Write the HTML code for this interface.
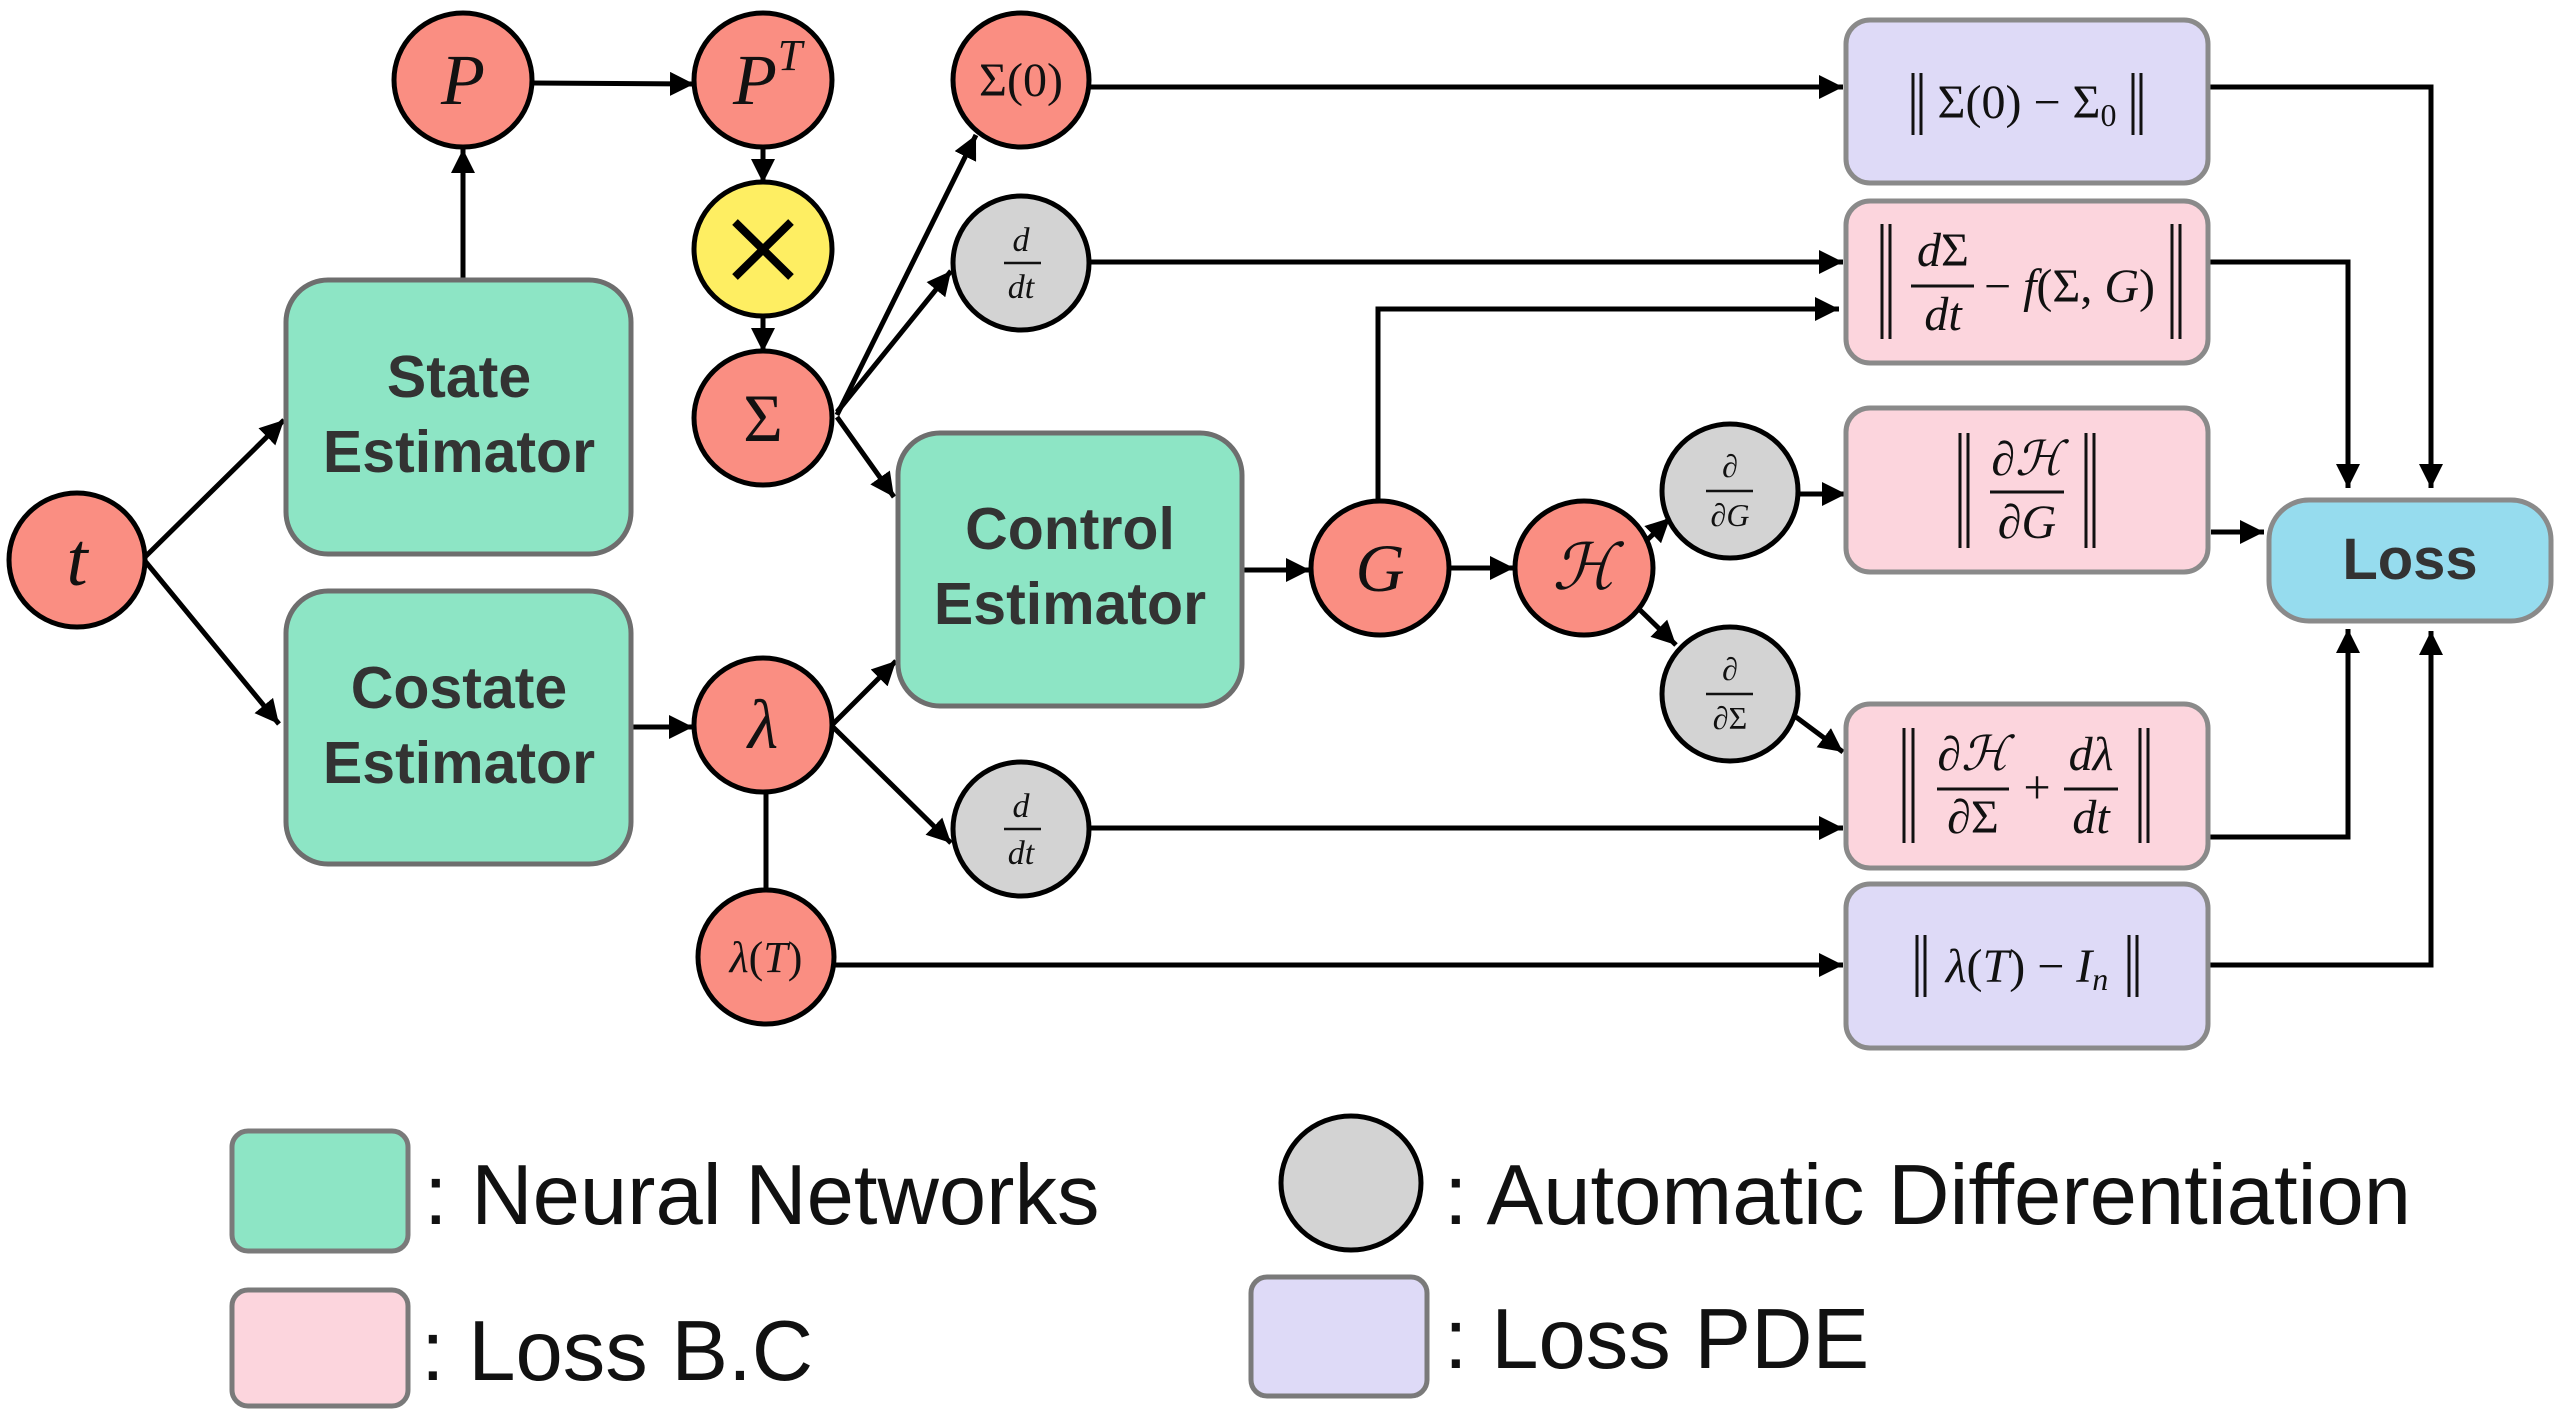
<!DOCTYPE html>
<html><head><meta charset="utf-8"><style>
html,body{margin:0;padding:0;background:#fff;}
svg{display:block}
.m{font-family:"Liberation Serif","DejaVu Serif",serif;fill:#111;}
.s{font-family:"Liberation Sans","DejaVu Sans",sans-serif;}
</style></head><body>
<svg width="2558" height="1420" viewBox="0 0 2558 1420" xmlns="http://www.w3.org/2000/svg">
<defs>
<marker id="a" markerUnits="userSpaceOnUse" markerWidth="26" markerHeight="24" refX="24" refY="12" orient="auto">
<path d="M0,0 L24,12 L0,24 Z" fill="#000"/>
</marker>
</defs>
<g stroke="#000" stroke-width="5" fill="none">
<line x1="145" y1="557" x2="284" y2="420" marker-end="url(#a)"/>
<line x1="145" y1="561" x2="279" y2="724" marker-end="url(#a)"/>
<line x1="463" y1="280" x2="463" y2="149" marker-end="url(#a)"/>
<line x1="532" y1="83" x2="694" y2="84" marker-end="url(#a)"/>
<line x1="763" y1="147" x2="763" y2="183" marker-end="url(#a)"/>
<line x1="763" y1="316" x2="763" y2="352" marker-end="url(#a)"/>
<line x1="837" y1="415" x2="976" y2="135" marker-end="url(#a)"/>
<line x1="837" y1="412" x2="951" y2="271" marker-end="url(#a)"/>
<line x1="837" y1="417" x2="894" y2="497" marker-end="url(#a)"/>
<line x1="631" y1="727" x2="693" y2="727" marker-end="url(#a)"/>
<line x1="833" y1="724" x2="896" y2="661" marker-end="url(#a)"/>
<line x1="833" y1="727" x2="951" y2="843" marker-end="url(#a)"/>
<line x1="766" y1="792" x2="766" y2="891"/>
<line x1="1089" y1="87" x2="1843" y2="87" marker-end="url(#a)"/>
<line x1="1089" y1="262" x2="1843" y2="262" marker-end="url(#a)"/>
<line x1="1089" y1="828" x2="1843" y2="828" marker-end="url(#a)"/>
<line x1="835" y1="965" x2="1843" y2="965" marker-end="url(#a)"/>
<line x1="1242" y1="570" x2="1310" y2="570" marker-end="url(#a)"/>
<line x1="1449" y1="568" x2="1514" y2="568" marker-end="url(#a)"/>
<polyline points="1378,502 1378,309 1839,309" marker-end="url(#a)"/>
<line x1="1643" y1="544" x2="1670" y2="518" marker-end="url(#a)"/>
<line x1="1639" y1="609" x2="1676" y2="645" marker-end="url(#a)"/>
<line x1="1798" y1="494" x2="1846" y2="494" marker-end="url(#a)"/>
<line x1="1796" y1="717" x2="1843" y2="752" marker-end="url(#a)"/>
<polyline points="2210,87 2431,87 2431,488" marker-end="url(#a)"/>
<polyline points="2210,262 2348,262 2348,488" marker-end="url(#a)"/>
<line x1="2211" y1="532" x2="2264" y2="532" marker-end="url(#a)"/>
<polyline points="2210,837 2348,837 2348,629" marker-end="url(#a)"/>
<polyline points="2210,965 2431,965 2431,631" marker-end="url(#a)"/>
</g>

<g fill="#8DE5C5" stroke="#6E6E6E" stroke-width="5">
<rect x="286" y="280" width="345" height="274" rx="42"/>
<rect x="286" y="591" width="345" height="273" rx="42"/>
<rect x="898" y="433" width="344" height="273" rx="42"/>
</g>
<g class="s" font-weight="bold" font-size="59" fill="#333" text-anchor="middle">
<text x="459" y="397">State</text><text x="459" y="472">Estimator</text>
<text x="459" y="708">Costate</text><text x="459" y="783">Estimator</text>
<text x="1070" y="549">Control</text><text x="1070" y="624">Estimator</text>
</g>

<g stroke="#8A8A8A" stroke-width="5">
<rect x="1846" y="20" width="362" height="163" rx="24" fill="#DEDAF7"/>
<rect x="1846" y="201" width="362" height="162" rx="24" fill="#FCD5DD"/>
<rect x="1846" y="408" width="362" height="164" rx="24" fill="#FCD5DD"/>
<rect x="1846" y="704" width="362" height="164" rx="24" fill="#FCD5DD"/>
<rect x="1846" y="884" width="362" height="164" rx="24" fill="#DEDAF7"/>
<rect x="2269" y="500" width="282" height="121" rx="40" fill="#96DCEE"/>
</g>
<text class="s" x="2410" y="579" font-size="58" font-weight="bold" fill="#333" text-anchor="middle">Loss</text>

<g stroke="#111" stroke-width="3">
<line x1="1913" y1="73" x2="1913" y2="135"/><line x1="1921" y1="73" x2="1921" y2="135"/>
<line x1="2133" y1="73" x2="2133" y2="135"/><line x1="2141" y1="73" x2="2141" y2="135"/>
<line x1="1882" y1="224" x2="1882" y2="339"/><line x1="1890" y1="224" x2="1890" y2="339"/>
<line x1="2172" y1="224" x2="2172" y2="339"/><line x1="2180" y1="224" x2="2180" y2="339"/>
<line x1="1960" y1="433" x2="1960" y2="548"/><line x1="1968" y1="433" x2="1968" y2="548"/>
<line x1="2086" y1="433" x2="2086" y2="548"/><line x1="2094" y1="433" x2="2094" y2="548"/>
<line x1="1904" y1="728" x2="1904" y2="843"/><line x1="1913" y1="728" x2="1913" y2="843"/>
<line x1="2140" y1="728" x2="2140" y2="843"/><line x1="2148" y1="728" x2="2148" y2="843"/>
<line x1="1917" y1="935" x2="1917" y2="997"/><line x1="1925" y1="935" x2="1925" y2="997"/>
<line x1="2129" y1="935" x2="2129" y2="997"/><line x1="2137" y1="935" x2="2137" y2="997"/>
<line x1="1911" y1="286" x2="1974" y2="286"/>
<line x1="1990" y1="492" x2="2064" y2="492"/>
<line x1="1937" y1="789" x2="2009" y2="789"/>
<line x1="2064" y1="789" x2="2118" y2="789"/>
</g>
<g class="m" font-size="48">
<text x="2027" y="118" text-anchor="middle">Σ(0) − Σ<tspan font-size="32" dy="8">0</tspan></text>
<text x="1943" y="266" text-anchor="middle"><tspan font-style="italic">d</tspan>Σ</text>
<text x="1943" y="330" text-anchor="middle" font-style="italic">dt</text>
<text x="1984" y="302">− <tspan font-style="italic">f</tspan>(Σ, <tspan font-style="italic">G</tspan>)</text>
<text x="2027" y="475" text-anchor="middle">∂<tspan font-style="italic">ℋ</tspan></text>
<text x="2027" y="538" text-anchor="middle">∂<tspan font-style="italic">G</tspan></text>
<text x="1973" y="770" text-anchor="middle">∂<tspan font-style="italic">ℋ</tspan></text>
<text x="1973" y="833" text-anchor="middle">∂Σ</text>
<text x="2037" y="803" text-anchor="middle">+</text>
<text x="2091" y="770" text-anchor="middle" font-style="italic">dλ</text>
<text x="2091" y="833" text-anchor="middle" font-style="italic">dt</text>
<text x="2027" y="982" text-anchor="middle"><tspan font-style="italic">λ</tspan>(<tspan font-style="italic">T</tspan>) − <tspan font-style="italic">I</tspan><tspan font-size="32" dy="8" font-style="italic">n</tspan></text>
</g>

<g stroke="#000" stroke-width="5">
<ellipse cx="77" cy="560" rx="68" ry="67" fill="#FA8E82"/>
<ellipse cx="463" cy="80" rx="69" ry="67" fill="#FA8E82"/>
<ellipse cx="763" cy="80" rx="69" ry="67" fill="#FA8E82"/>
<ellipse cx="763" cy="249" rx="69" ry="67" fill="#FEEE62"/>
<ellipse cx="763" cy="418" rx="69" ry="67" fill="#FA8E82"/>
<ellipse cx="1021" cy="80" rx="68" ry="67" fill="#FA8E82"/>
<ellipse cx="1021" cy="263" rx="68" ry="67" fill="#D3D3D3"/>
<ellipse cx="763" cy="725" rx="69" ry="67" fill="#FA8E82"/>
<ellipse cx="1021" cy="829" rx="68" ry="67" fill="#D3D3D3"/>
<ellipse cx="766" cy="957" rx="68" ry="67" fill="#FA8E82"/>
<ellipse cx="1380" cy="568" rx="69" ry="67" fill="#FA8E82"/>
<ellipse cx="1584" cy="568" rx="69" ry="67" fill="#FA8E82"/>
<ellipse cx="1730" cy="491" rx="68" ry="67" fill="#D3D3D3"/>
<ellipse cx="1730" cy="694" rx="68" ry="67" fill="#D3D3D3"/>
<line x1="735" y1="222" x2="791" y2="277" stroke-width="8"/>
<line x1="791" y1="222" x2="735" y2="277" stroke-width="8"/>
</g>
<g stroke="#111" stroke-width="2.5">
<line x1="1004" y1="263" x2="1041" y2="263"/>
<line x1="1004" y1="829" x2="1041" y2="829"/>
<line x1="1706" y1="491" x2="1753" y2="491"/>
<line x1="1706" y1="694" x2="1753" y2="694"/>
</g>
<g class="m" text-anchor="middle">
<text x="77" y="585" font-size="76" font-style="italic">t</text>
<text x="463" y="104" font-size="72" font-style="italic">P</text>
<text x="755" y="104" font-size="72" font-style="italic">P</text>
<text x="790" y="70" font-size="44" font-style="italic">T</text>
<text x="763" y="441" font-size="68">Σ</text>
<text x="1021" y="96" font-size="48">Σ(0)</text>
<text x="1021" y="251" font-size="34" font-style="italic">d</text>
<text x="1021" y="298" font-size="34" font-style="italic">dt</text>
<text x="763" y="748" font-size="70" font-style="italic">λ</text>
<text x="1021" y="817" font-size="34" font-style="italic">d</text>
<text x="1021" y="864" font-size="34" font-style="italic">dt</text>
<text x="766" y="972" font-size="44"><tspan font-style="italic">λ</tspan>(<tspan font-style="italic">T</tspan>)</text>
<text x="1380" y="591" font-size="68" font-style="italic">G</text>
<text x="1584" y="589" font-size="64" font-style="italic">ℋ</text>
<text x="1730" y="477" font-size="32">∂</text>
<text x="1730" y="526" font-size="32">∂<tspan font-style="italic">G</tspan></text>
<text x="1730" y="680" font-size="32">∂</text>
<text x="1730" y="729" font-size="32">∂Σ</text>
</g>

<g stroke="#7A7A7A" stroke-width="5">
<rect x="232" y="1131" width="176" height="120" rx="16" fill="#8DE5C5"/>
<rect x="232" y="1290" width="176" height="116" rx="16" fill="#FCD5DD"/>
<rect x="1251" y="1277" width="176" height="119" rx="16" fill="#DEDAF7"/>
</g>
<ellipse cx="1351" cy="1183" rx="70" ry="67" fill="#D3D3D3" stroke="#000" stroke-width="5"/>
<g class="s" font-size="85" fill="#111">
<text x="424" y="1224">: Neural Networks</text>
<text x="421" y="1380">: Loss B.C</text>
<text x="1444" y="1224">: Automatic Differentiation</text>
<text x="1444" y="1368">: Loss PDE</text>
</g>
</svg>
</body></html>
